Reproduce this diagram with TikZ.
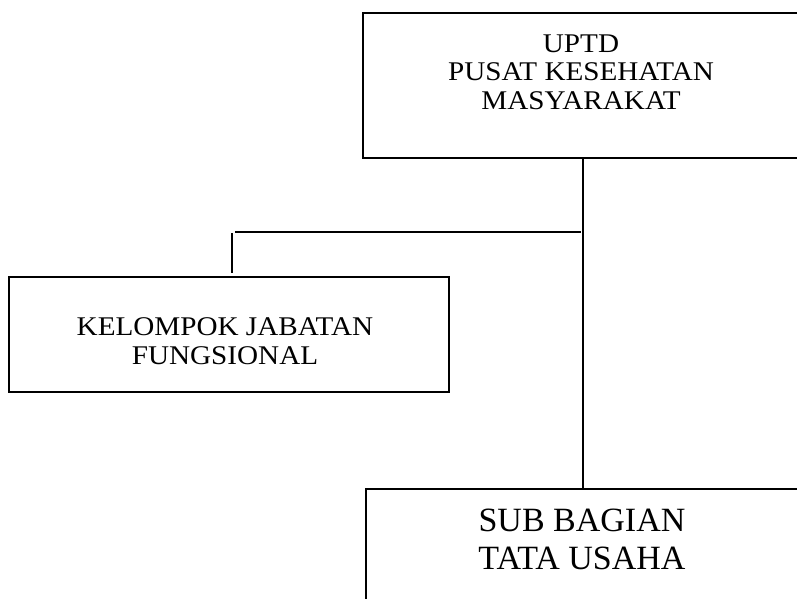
\documentclass[tikz,border=0pt]{standalone}
\usepackage{fontspec}
\setmainfont{Liberation Serif}
\newfontfamily\widefont[FakeStretch=1.08]{Liberation Serif}
\begin{document}
\begin{tikzpicture}[x=1pt,y=-1pt,
  boxframe/.style={draw=black, line width=1.7pt, rectangle, inner sep=0pt},
  smalltext/.style={align=center, inner sep=0pt, font=\widefont\fontsize{27}{28.5}\selectfont},
  bigtext/.style={align=center, inner sep=0pt, font=\fontsize{34}{38}\selectfont},
  link/.style={draw=black, line width=1.7pt}]
\useasboundingbox (0,0) rectangle (797,598);
\clip (0,0) rectangle (797,598);
% boxes
\node[boxframe, minimum width=438pt, minimum height=145pt] (top) at (582,85.5) {};
\node[smalltext] (toptext) at (581,72) {UPTD\\PUSAT KESEHATAN\\MASYARAKAT};
\node[boxframe, minimum width=440pt, minimum height=115pt] (kjf) at (229,334.5) {};
\node[smalltext] (kjftext) at (225,341) {KELOMPOK JABATAN\\FUNGSIONAL};
\node[boxframe, minimum width=436pt, minimum height=170pt] (sub) at (584,574) {};
\node[bigtext] (subtext) at (582,539) {SUB BAGIAN\\TATA USAHA};
% connectors
\coordinate (vtop) at (583,0 |- top.south);
\coordinate (vbot) at (583,0 |- sub.north);
\coordinate (hr) at (581,232);
\coordinate (hl) at (235,232);
\coordinate (kt) at (232,233);
\coordinate (kb) at (232,273);
\draw[link] (vtop) -- (vbot);
\draw[link] (hl) -- (hr);
\draw[link] (kt) -- (kb);
\end{tikzpicture}
\end{document}
